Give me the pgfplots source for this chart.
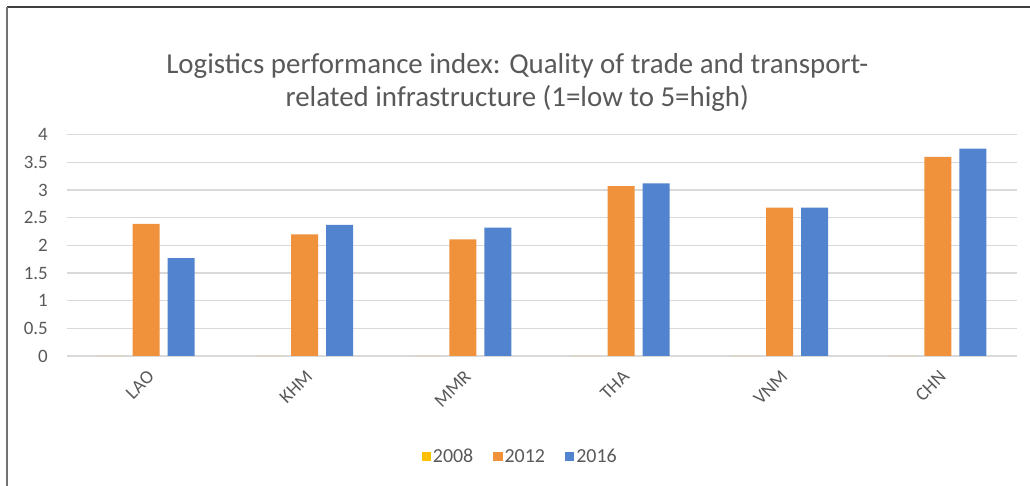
\documentclass[border=0pt]{standalone}
\usepackage{fontspec}
\setmainfont{Carlito}
\usepackage{pgfplots}
\pgfplotsset{compat=1.18}
\definecolor{txt}{RGB}{89,89,89}
\definecolor{gridc}{RGB}{217,217,217}
\definecolor{cyel}{RGB}{255,192,0}
\definecolor{corg}{RGB}{240,145,60}
\definecolor{cblu}{RGB}{82,131,207}
\newcommand\tfs{\fontsize{19}{19}\selectfont}
\begin{document}
\begin{tikzpicture}[x=1bp,y=1bp]
\path[use as bounding box] (0,0) rectangle (1030,486);
\draw[line width=1.5bp, black!75] (7,479) -- (1030,479);
\draw[line width=1.5bp, black!55] (7,0) -- (7,479);
\begin{axis}[
  at={(67bp,130bp)}, anchor=south west,
  scale only axis, width=950bp, height=221.3bp,
  ymin=0, ymax=4, ytick={0,0.5,...,4},
  xmin=-0.5, xmax=5.5,
  xtick={0,1,2,3,4,5},
  xticklabels={\tfs LAO,\tfs KHM,\tfs MMR,\tfs THA,\tfs VNM,\tfs CHN},
  ybar=8bp, bar width=27bp,
  axis line style={draw=none},
  major tick length=0,
  xmajorgrids=false, ymajorgrids=true,
  major grid style={draw=gridc, line width=1.2bp},
  /pgf/number format/assume math mode=true,
  yticklabel={\tfs\pgfmathprintnumber{\tick}},
  every tick label/.append style={text=txt, inner sep=0pt},
  yticklabel style={anchor=east, xshift=-19bp},
  xticklabel style={rotate=45, anchor=east, xshift=-9bp, yshift=-16bp},
  title={Logistics performance index: Quality of trade and transport-\\related infrastructure (1=low to 5=high)},
  title style={font=\fontsize{29}{33}\selectfont, text=txt, align=center, at={(0.474,1.21)}, anchor=center},
  legend columns=3,
  legend style={draw=none, fill=none, at={(0.477,-0.456)}, anchor=center,
    font=\fontsize{20}{20}\selectfont, text=txt,
    /tikz/every even column/.append style={column sep=18bp}},
  legend image code/.code={\fill[#1] (0bp,-4bp) rectangle (9.3bp,5.3bp);},
]
\addplot[fill=cyel, draw=none] coordinates {(0,0) (1,0) (2,0) (3,0) (4,0) (5,0)};
\addplot[fill=corg, draw=none] coordinates {(0,2.39) (1,2.20) (2,2.11) (3,3.07) (4,2.68) (5,3.60)};
\addplot[fill=cblu, draw=none] coordinates {(0,1.77) (1,2.37) (2,2.32) (3,3.12) (4,2.68) (5,3.75)};
\legend{2008,2012,2016}
\end{axis}
\end{tikzpicture}
\end{document}
